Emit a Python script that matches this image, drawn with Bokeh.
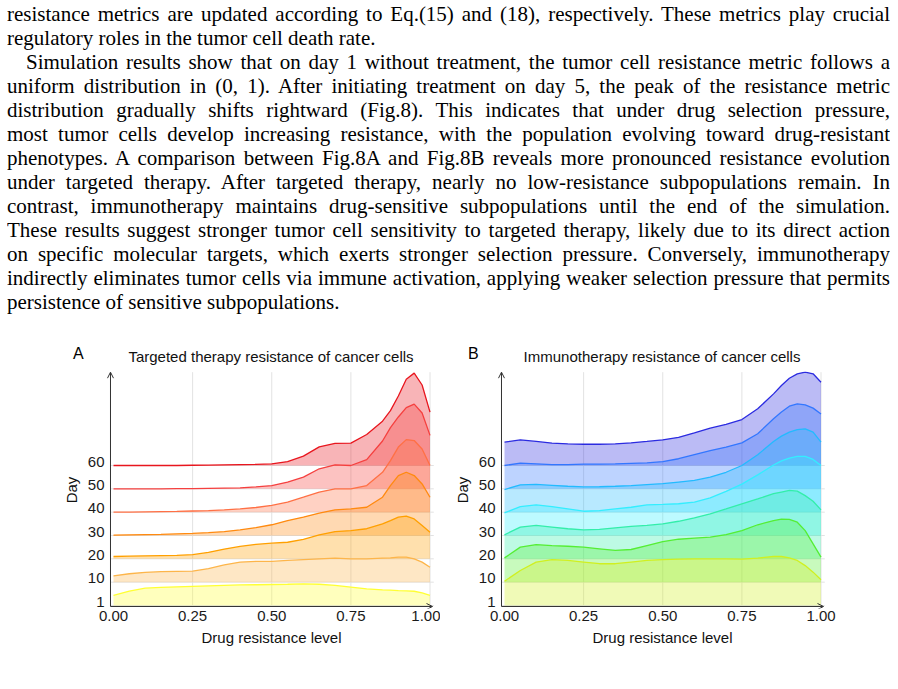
from bokeh.plotting import figure
from bokeh.models import Div, Range1d, FixedTicker, Arrow, OpenHead, Label
from bokeh.layouts import column, row
from bokeh.embed import file_html
from bokeh.resources import INLINE

# ---------------- data ----------------
xs = [0.0, 0.05, 0.1, 0.15, 0.2, 0.25, 0.3, 0.35, 0.4, 0.45, 0.5, 0.55, 0.6, 0.65,
      0.7, 0.75, 0.8, 0.85, 0.875, 0.9, 0.925, 0.95, 0.975, 1.0]
days = ["1", "10", "20", "30", "40", "50", "60"]
x_ticks = [0.0, 0.25, 0.5, 0.75, 1.0]
x_tick_labels = ["0.00", "0.25", "0.50", "0.75", "1.00"]
panel_titles = ["Targeted therapy resistance of cancer cells", "Immunotherapy resistance of cancer cells"]
panel_letters = ["A", "B"]

# Targeted therapy: ridge heights (in units of one row spacing)
a_day1 = [0.43, 0.62, 0.74, 0.78, 0.80, 0.82, 0.84, 0.86, 0.88, 0.89, 0.90, 0.91, 0.93, 0.91, 0.86, 0.79, 0.71, 0.67, 0.66, 0.64, 0.63, 0.61, 0.54, 0.43]
a_day10 = [0.27, 0.36, 0.42, 0.45, 0.46, 0.47, 0.58, 0.74, 0.86, 0.89, 0.89, 0.93, 0.97, 1.00, 1.03, 1.00, 1.00, 1.03, 1.04, 1.07, 1.07, 1.00, 0.86, 0.64]
a_day20 = [0.10, 0.12, 0.13, 0.14, 0.15, 0.18, 0.28, 0.42, 0.53, 0.62, 0.67, 0.71, 0.83, 1.03, 1.17, 1.21, 1.29, 1.50, 1.64, 1.79, 1.83, 1.71, 1.43, 1.14]
a_day30 = [0.02, 0.03, 0.04, 0.05, 0.07, 0.09, 0.12, 0.17, 0.24, 0.34, 0.46, 0.64, 0.79, 0.96, 1.10, 1.14, 1.21, 1.64, 2.14, 2.57, 2.71, 2.57, 2.21, 1.64]
a_day40 = [0.00, 0.00, 0.01, 0.02, 0.03, 0.05, 0.07, 0.10, 0.14, 0.20, 0.29, 0.43, 0.64, 0.86, 1.00, 1.00, 1.14, 1.71, 2.21, 2.79, 3.11, 3.07, 2.71, 2.00]
a_day50 = [0.00, 0.00, 0.00, 0.00, 0.01, 0.01, 0.02, 0.03, 0.04, 0.08, 0.14, 0.29, 0.50, 0.86, 1.03, 1.00, 1.25, 2.05, 2.62, 3.08, 3.48, 3.63, 3.25, 2.29]
a_day60 = [0.00, 0.00, 0.00, 0.00, 0.00, 0.01, 0.02, 0.03, 0.04, 0.05, 0.07, 0.17, 0.40, 0.80, 0.95, 0.96, 1.33, 1.90, 2.35, 2.98, 3.70, 3.96, 3.45, 2.29]

# Immunotherapy
b_day1 = [1.04, 1.50, 1.86, 1.97, 1.93, 1.86, 1.79, 1.79, 1.86, 1.93, 1.97, 1.99, 2.00, 2.00, 2.00, 1.99, 2.03, 2.10, 2.10, 2.04, 1.93, 1.71, 1.43, 1.10]
b_day10 = [1.04, 1.50, 1.61, 1.57, 1.54, 1.50, 1.43, 1.36, 1.40, 1.57, 1.74, 1.84, 1.89, 1.93, 2.04, 2.21, 2.46, 2.64, 2.70, 2.69, 2.57, 2.21, 1.64, 1.07]
b_day20 = [1.03, 1.36, 1.43, 1.36, 1.29, 1.24, 1.26, 1.33, 1.39, 1.43, 1.50, 1.61, 1.76, 1.93, 2.14, 2.36, 2.57, 2.79, 2.86, 2.93, 2.90, 2.71, 2.47, 2.10]
b_day30 = [0.97, 1.24, 1.31, 1.24, 1.14, 1.04, 1.07, 1.14, 1.21, 1.31, 1.33, 1.36, 1.43, 1.61, 1.89, 2.20, 2.60, 3.02, 3.20, 3.32, 3.39, 3.39, 3.26, 3.00]
b_day40 = [0.97, 1.17, 1.19, 1.15, 1.11, 1.08, 1.09, 1.11, 1.14, 1.18, 1.22, 1.29, 1.36, 1.50, 1.71, 2.00, 2.46, 3.03, 3.26, 3.43, 3.54, 3.57, 3.43, 3.00]
b_day50 = [1.00, 1.10, 1.07, 1.04, 1.04, 1.06, 1.06, 1.07, 1.09, 1.11, 1.17, 1.29, 1.47, 1.64, 1.79, 1.97, 2.36, 3.00, 3.29, 3.54, 3.64, 3.60, 3.46, 3.21]
b_day60 = [1.00, 1.10, 1.03, 0.96, 0.93, 0.91, 0.91, 0.93, 0.97, 1.03, 1.10, 1.21, 1.40, 1.60, 1.76, 1.97, 2.43, 3.07, 3.43, 3.74, 3.93, 4.00, 3.93, 3.57]

targeted = [a_day1, a_day10, a_day20, a_day30, a_day40, a_day50, a_day60]
immuno = [b_day1, b_day10, b_day20, b_day30, b_day40, b_day50, b_day60]

colors_a = ["#FFFF33", "#FDB54A", "#FFA000", "#FF8A10", "#FF7045", "#F5403F", "#E8161E"]
colors_b = ["#D0F020", "#55EE33", "#33EEAA", "#33EEFF", "#22BBFF", "#3377FF", "#2B2BE0"]

# ---------------- text ----------------
para1 = [
    "resistance metrics are updated according to Eq.(15) and (18), respectively. These metrics play crucial",
    "regulatory roles in the tumor cell death rate.",
]
para2 = [
    "Simulation results show that on day 1 without treatment, the tumor cell resistance metric follows a",
    "uniform distribution in (0, 1). After initiating treatment on day 5, the peak of the resistance metric",
    "distribution gradually shifts rightward (Fig.8). This indicates that under drug selection pressure,",
    "most tumor cells develop increasing resistance, with the population evolving toward drug-resistant",
    "phenotypes. A comparison between Fig.8A and Fig.8B reveals more pronounced resistance evolution",
    "under targeted therapy. After targeted therapy, nearly no low-resistance subpopulations remain. In",
    "contrast, immunotherapy maintains drug-sensitive subpopulations until the end of the simulation.",
    "These results suggest stronger tumor cell sensitivity to targeted therapy, likely due to its direct action",
    "on specific molecular targets, which exerts stronger selection pressure. Conversely, immunotherapy",
    "indirectly eliminates tumor cells via immune activation, applying weaker selection pressure that permits",
    "persistence of sensitive subpopulations.",
]


def line_html(t, last=False, indent=0):
    al = "left" if last else "justify"
    return (f'<div style="height:24px;overflow:hidden;white-space:normal;text-align:{al};'
            f'text-align-last:{al};padding-left:{indent}px;">{t}</div>')


html = ['<div style="box-sizing:content-box;width:883px;padding:2px 8px 0 7px;'
        'font-family:\'Liberation Serif\',serif;font-size:21px;line-height:24px;color:#000;">']
for i, t in enumerate(para1):
    html.append(line_html(t, last=(i == len(para1) - 1)))
for i, t in enumerate(para2):
    html.append(line_html(t, last=(i == len(para2) - 1), indent=(19 if i == 0 else 0)))
html.append("</div>")

div = Div(text="".join(html), width=898, height=336, margin=(0, 0, 0, 0), disable_math=True)

FONT = "Liberation Sans"

# ---------------- title strip (panel letters and titles) ----------------
STRIP_H = 35
strip = figure(width=898, height=STRIP_H, output_backend="svg", toolbar_location=None,
               x_range=Range1d(0, 898), y_range=Range1d(STRIP_H, 0),
               x_axis_type=None, y_axis_type=None,
               min_border_left=0, min_border_right=0, min_border_top=0, min_border_bottom=0,
               margin=(0, 0, 0, 0))
strip.title = None
strip.outline_line_color = None
strip.xgrid.visible = False
strip.ygrid.visible = False
strip.background_fill_color = "white"
strip.border_fill_color = "white"
for letter, lx, title, tx in zip(panel_letters, [72.5, 467.5], panel_titles, [270.5, 661.5]):
    strip.add_layout(Label(x=lx, y=16.5, text=letter, text_font=FONT, text_font_size="16px",
                           text_align="left", text_baseline="alphabetic", text_color="#000000"))
    strip.add_layout(Label(x=tx, y=20.0, text=title, text_font=FONT, text_font_size="15px",
                           text_align="center", text_baseline="alphabetic", text_color="#111111"))

# ---------------- ridge panels ----------------
XR = (-0.0221, 1.0205)      # frame range (frame a few px wider than the drawn axes)
YR = (-0.129, 10.029)
X_AXIS_AT = -0.043          # level of the drawn x-axis line
Y_AXIS_AT = -0.0095         # x of the drawn y-axis line
X_END = 1.0079
Y_END = 10.0
label_shift = 0.17
y_label_pos = [i + label_shift for i in range(len(days))]
FRAME_W = 330
FIG_H = 689 - 336 - STRIP_H


def ridge_panel(series, colors, width, border_left):
    p = figure(width=width, height=FIG_H, output_backend="svg", toolbar_location=None,
               x_range=Range1d(*XR), y_range=Range1d(*YR),
               min_border_left=border_left, min_border_right=width - border_left - FRAME_W,
               min_border_top=0, min_border_bottom=81, margin=(0, 0, 0, 0))
    p.title = None
    p.outline_line_color = None
    p.background_fill_color = "white"
    p.border_fill_color = "white"
    p.xgrid.visible = False
    p.ygrid.visible = False

    # grid lines
    gx = x_ticks[1:]
    p.segment(x0=gx, y0=[X_AXIS_AT] * len(gx), x1=gx, y1=[Y_END] * len(gx),
              line_color="#E2E2E2", line_width=1, level="underlay")
    lv = list(range(len(days)))
    p.segment(x0=[Y_AXIS_AT] * len(lv), y0=lv, x1=[X_END + 0.004] * len(lv), y1=lv,
              line_color="#E2E2E2", line_width=1, level="underlay")

    # ridges (top rows behind, bottom rows in front)
    for i in reversed(range(len(days))):
        y2 = [i + v for v in series[i]]
        p.varea(x=xs, y1=i, y2=y2, fill_color=colors[i], fill_alpha=0.32)
        p.line(xs, y2, line_color=colors[i], line_width=1.3)

    # axes (labels only; the axis lines with arrow heads are drawn below)
    p.xaxis.ticker = FixedTicker(ticks=x_ticks)
    p.xaxis.major_label_overrides = dict(zip(x_ticks, x_tick_labels))
    p.yaxis.ticker = FixedTicker(ticks=y_label_pos)
    p.yaxis.major_label_overrides = dict(zip(y_label_pos, days))
    p.xaxis.axis_label = "Drug resistance level"
    p.yaxis.axis_label = "Day"
    for ax in (p.xaxis, p.yaxis):
        ax.axis_line_color = None
        ax.major_tick_line_color = None
        ax.minor_tick_line_color = None
        ax.major_tick_out = 0
        ax.major_tick_in = 0
        ax.major_label_text_font = FONT
        ax.major_label_text_font_size = "15px"
        ax.major_label_text_color = "#1A1A1A"
        ax.axis_label_text_font = FONT
        ax.axis_label_text_font_size = "15px"
        ax.axis_label_text_font_style = "normal"
        ax.axis_label_text_color = "#111111"
    p.xaxis.major_label_standoff = 2
    p.yaxis.major_label_standoff = 2
    p.xaxis.axis_label_standoff = 5
    p.yaxis.axis_label_standoff = 5

    # axis lines with arrow heads
    p.add_layout(Arrow(end=OpenHead(size=6, line_color="#333333", line_width=1),
                       x_start=Y_AXIS_AT, y_start=X_AXIS_AT, x_end=Y_AXIS_AT, y_end=Y_END,
                       line_color="#333333", line_width=1))
    p.add_layout(Arrow(end=OpenHead(size=6, line_color="#333333", line_width=1),
                       x_start=Y_AXIS_AT, y_start=X_AXIS_AT, x_end=X_END, y_end=X_AXIS_AT,
                       line_color="#333333", line_width=1))
    return p


pA = ridge_panel(targeted, colors_a, 440, 106)
pB = ridge_panel(immuno, colors_b, 458, 57)

layout = column(div, strip, row(pA, pB, margin=(0, 0, 0, 0), spacing=0),
                margin=(0, 0, 0, 0), spacing=0)

open("out.html", "w").write(file_html(layout, INLINE))
